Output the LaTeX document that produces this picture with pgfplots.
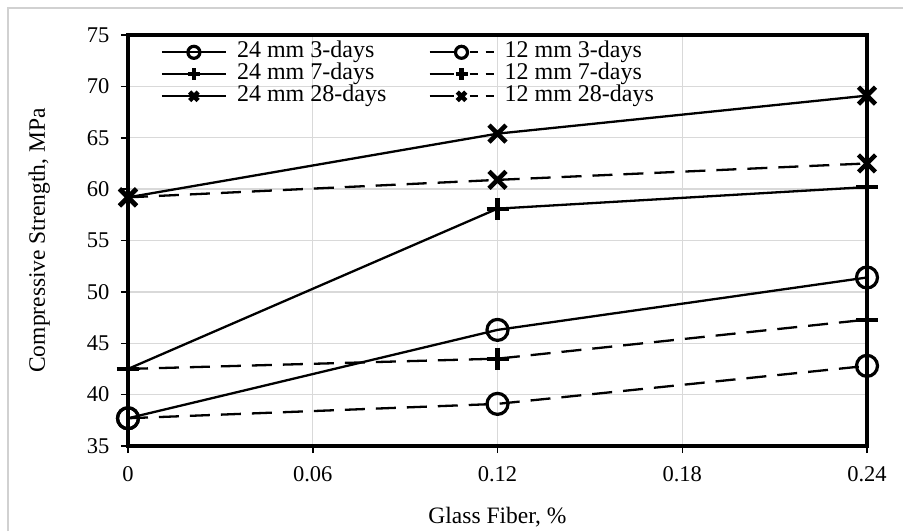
\documentclass[border=0pt]{standalone}
\usepackage{pgfplots}
\pgfplotsset{compat=1.18}
\usepackage{fontspec}
\setmainfont{Liberation Serif}
\begin{document}
\begin{tikzpicture}
\useasboundingbox (0,0) rectangle (903pt,531pt);
\draw[black!18, line width=1.5pt] (8pt,0) -- (8pt,523pt) -- (903pt,523pt);
\begin{axis}[
  at={(128pt,85pt)}, anchor=south west,
  scale only axis, width=739pt, height=411pt,
  xmin=0, xmax=0.24, ymin=35, ymax=75,
  xtick={0,0.06,0.12,0.18,0.24},
  xticklabels={0,0.06,0.12,0.18,0.24},
  ytick={35,40,...,75},
  /pgf/number format/assume math mode=true,
  xmajorgrids, ymajorgrids,
  grid style={color=black!15, line width=1.3pt},
  axis line style={line width=4.5pt},
  tick align=outside, xtick pos=bottom, ytick pos=left,
  major tick length=7pt,
  tick style={black, line width=1.5pt},
  ticklabel style={font=\fontsize{22.5}{24}\selectfont},
  xticklabel style={yshift=-10pt},
  yticklabel style={xshift=-8pt},
  xlabel={Glass Fiber, \%},
  ylabel={Compressive Strength, MPa},
  label style={font=\fontsize{23.5}{25}\selectfont},
  xlabel style={at={(axis description cs:0.5,-0.173)}, anchor=center},
  ylabel style={at={(axis description cs:-0.12,0.5)}, anchor=center},
  legend columns=2,
  legend cell align=left,
  legend style={at={(0.04,0.99)}, anchor=north west, draw=none, fill=none,
    font=\fontsize{24}{24}\selectfont,
    nodes={text height=16pt, text depth=5pt, inner ysep=0.5pt},
    /tikz/every odd column/.append style={column sep=8pt},
    /tikz/every even column/.append style={column sep=40pt},
    row sep=0pt},
  legend image code/.code={\draw[mark repeat=2,mark phase=2,#1,mark size=6pt] plot coordinates {(0pt,0pt)(32pt,0pt)(64pt,0pt)};},
  every axis plot/.append style={black, line width=2.3pt},
  solidline/.style={solid},
  dashline/.style={dash pattern=on 20pt off 11pt, legend image post style={dash pattern=on 24pt off 16pt on 8pt off 8pt}},
]
\addplot[solidline, mark=o, mark size=10.5pt, mark options={solid, line width=3.2pt}] coordinates {(0,37.7) (0.12,46.3) (0.24,51.4)};
\addlegendentry{24 mm 3-days}
\addplot[dashline, mark=o, mark size=10.5pt, mark options={solid, line width=3.2pt}] coordinates {(0,37.7) (0.12,39.1) (0.24,42.8)};
\addlegendentry{12 mm 3-days}
\addplot[solidline, mark=+, mark size=11pt, mark options={solid, line width=4.2pt}] coordinates {(0,42.5) (0.12,58.1) (0.24,60.2)};
\addlegendentry{24 mm 7-days}
\addplot[dashline, mark=+, mark size=11pt, mark options={solid, line width=4.2pt}] coordinates {(0,42.5) (0.12,43.5) (0.24,47.3)};
\addlegendentry{12 mm 7-days}
\addplot[solidline, mark=x, mark size=12pt, mark options={solid, line width=4.5pt}] coordinates {(0,59.2) (0.12,65.4) (0.24,69.1)};
\addlegendentry{24 mm 28-days}
\addplot[dashline, mark=x, mark size=12pt, mark options={solid, line width=4.5pt}] coordinates {(0,59.2) (0.12,60.9) (0.24,62.5)};
\addlegendentry{12 mm 28-days}
\end{axis}
\end{tikzpicture}
\end{document}
